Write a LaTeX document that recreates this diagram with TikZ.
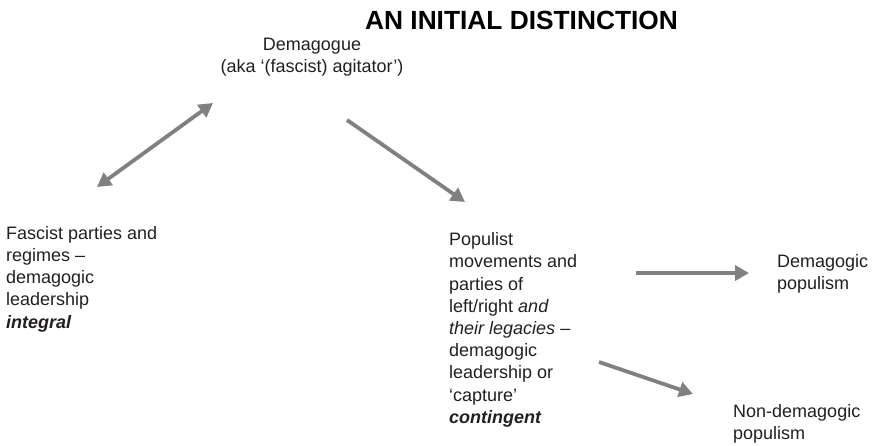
\documentclass[tikz,border=0pt]{standalone}
\usepackage{fontspec}
\setmainfont{Liberation Sans}
\usetikzlibrary{arrows.meta}
\definecolor{arrowgray}{HTML}{808083}
\definecolor{textcol}{HTML}{231F20}
\begin{document}
\begin{tikzpicture}[x=1pt,y=-1pt,
  txt/.style={inner sep=0pt, anchor=base west, text=textcol, font=\fontsize{18}{22.2}\selectfont},
  conn/.style={draw=arrowgray, line width=3.8pt, -{Triangle[length=14pt,width=15pt]}},
  dconn/.style={draw=arrowgray, line width=3.8pt, {Triangle[length=14pt,width=15pt]}-{Triangle[length=14pt,width=15pt]}}]
\useasboundingbox (0,0) rectangle (877,445);
\node[inner sep=0pt, anchor=base, text=black, font=\fontsize{26.3}{30}\selectfont\bfseries] (title) at (521.5,29) {AN INITIAL DISTINCTION};
\node[txt, anchor=base] (dem) at (312,50) {\begin{tabular}[t]{@{}c@{}}Demagogue\\(aka ‘(fascist) agitator’)\end{tabular}};
\node[txt] (fas) at (6,239.3) {\begin{tabular}[t]{@{}l@{}}Fascist parties and\\regimes –\\demagogic\\leadership\\\textbf{\textit{integral}}\end{tabular}};
\node[txt] (pop) at (449,245.7) {\begin{tabular}[t]{@{}l@{}}Populist\\movements and\\parties of\\left/right \textit{and}\\\textit{their legacies} –\\demagogic\\leadership or\\‘capture’\\\textbf{\textit{contingent}}\end{tabular}};
\node[txt] (dp) at (777,267) {\begin{tabular}[t]{@{}l@{}}Demagogic\\populism\end{tabular}};
\node[txt] (ndp) at (733,417) {\begin{tabular}[t]{@{}l@{}}Non-demagogic\\populism\end{tabular}};
\coordinate (a1s) at (97,187);
\coordinate (a1e) at (213,103);
\coordinate (a2s) at (347,120);
\coordinate (a2e) at (465,202);
\coordinate (a3s) at (636,273);
\coordinate (a3e) at (749,273);
\coordinate (a4s) at (599,362);
\coordinate (a4e) at (693,394);
\draw[dconn] (a1s) -- (a1e);
\draw[conn] (a2s) -- (a2e);
\draw[conn] (a3s) -- (a3e);
\draw[conn] (a4s) -- (a4e);
\end{tikzpicture}
\end{document}
